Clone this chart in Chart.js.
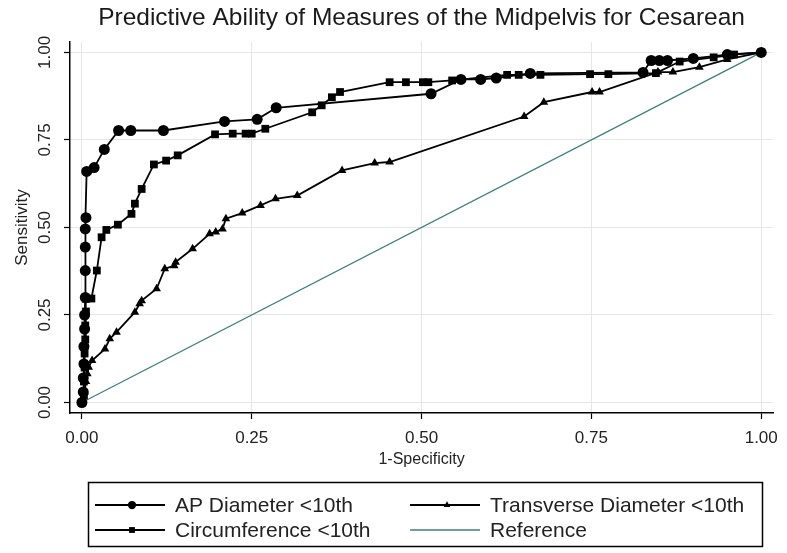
<!DOCTYPE html>
<html>
<head>
<meta charset="utf-8">
<script src="https://cdn.jsdelivr.net/npm/chart.js@4/dist/chart.umd.min.js"></script>
<style>
html, body { margin: 0; padding: 0; background: #fff; }
</style>
</head>
<body>
<canvas id="grafico" width="787" height="553"></canvas>
<script>
var tituloGrafico = 'Predictive Ability of Measures of the Midpelvis for Cesarean';
var tituloX = '1-Specificity';
var tituloY = 'Sensitivity';
var nomesSeries = ['AP Diameter <10th', 'Circumference <10th', 'Transverse Diameter <10th', 'Reference'];
var ticksEixo = [0, 0.25, 0.5, 0.75, 1];
var rotulosEixo = ['0.00', '0.25', '0.50', '0.75', '1.00'];

// AP Diameter <10th
var apX = [0, 0.002, 0.002, 0.003, 0.003, 0.004, 0.004, 0.005, 0.005, 0.005, 0.005, 0.006, 0.007, 0.018, 0.033, 0.054, 0.072, 0.12, 0.21, 0.258, 0.286, 0.514, 0.558, 0.587, 0.61, 0.66, 0.826, 0.838, 0.85, 0.862, 0.9, 0.95, 1];
var apY = [0, 0.03, 0.07, 0.11, 0.16, 0.21, 0.25, 0.30, 0.377, 0.444, 0.496, 0.528, 0.66, 0.671, 0.723, 0.777, 0.777, 0.777, 0.803, 0.809, 0.842, 0.882, 0.923, 0.923, 0.927, 0.94, 0.943, 0.977, 0.977, 0.977, 0.983, 0.994, 1];

// Circumference <10th
var circX = [0, 0.003, 0.003, 0.004, 0.004, 0.005, 0.005, 0.006, 0.006, 0.014, 0.022, 0.029, 0.036, 0.053, 0.073, 0.078, 0.088, 0.106, 0.124, 0.141, 0.196, 0.222, 0.241, 0.25, 0.27, 0.339, 0.353, 0.368, 0.38, 0.453, 0.477, 0.502, 0.51, 0.545, 0.626, 0.643, 0.675, 0.748, 0.775, 0.845, 0.88, 0.93, 0.96, 1];
var circY = [0, 0.02, 0.06, 0.10, 0.14, 0.18, 0.22, 0.26, 0.296, 0.297, 0.377, 0.472, 0.493, 0.508, 0.539, 0.568, 0.61, 0.68, 0.691, 0.706, 0.766, 0.768, 0.768, 0.768, 0.782, 0.829, 0.849, 0.872, 0.887, 0.915, 0.915, 0.915, 0.915, 0.92, 0.936, 0.936, 0.936, 0.938, 0.938, 0.941, 0.974, 0.986, 0.994, 1];

// Transverse Diameter <10th
var transX = [0, 0.004, 0.006, 0.008, 0.01, 0.015, 0.034, 0.041, 0.051, 0.078, 0.085, 0.088, 0.11, 0.122, 0.136, 0.138, 0.163, 0.188, 0.197, 0.207, 0.212, 0.236, 0.263, 0.285, 0.317, 0.383, 0.431, 0.453, 0.651, 0.68, 0.751, 0.762, 0.848, 0.87, 0.909, 0.95, 1];
var transY = [0, 0.03, 0.06, 0.082, 0.101, 0.12, 0.153, 0.182, 0.201, 0.258, 0.282, 0.291, 0.325, 0.382, 0.391, 0.401, 0.439, 0.482, 0.487, 0.496, 0.525, 0.541, 0.563, 0.582, 0.591, 0.663, 0.684, 0.687, 0.817, 0.858, 0.887, 0.887, 0.944, 0.944, 0.958, 0.98, 1];

// Reference
var refX = [0, 1];
var refY = [0, 1];

var fonte = '"Liberation Sans", Arial, sans-serif';
Chart.defaults.font.family = fonte;
Chart.defaults.color = '#222';

function montaPontos(xs, ys) {
    let pts = [];
    for (var i in xs) {
        pts.push({x: xs[i], y: ys[i]});
    }
    return pts;
}

function serie(idx, xs, ys, estilo, raio, cor, largura) {
    return {
        label: nomesSeries[idx],
        data: montaPontos(xs, ys),
        showLine: true,
        tension: 0,
        borderColor: cor,
        backgroundColor: cor,
        borderWidth: largura,
        pointStyle: estilo,
        pointRadius: raio,
        pointBorderWidth: 0,
        pointHoverRadius: raio
    };
}

// legenda em caixa e rotulos verticais do eixo y
const pluginExtras = {
    id: 'extras',
    afterDraw(chart) {
        const ctx = chart.ctx;
        const escY = chart.scales.y;
        ctx.save();
        ctx.fillStyle = '#222';
        ctx.font = '17px ' + fonte;
        ctx.textAlign = 'center';
        ctx.textBaseline = 'middle';
        for (var i in ticksEixo) {
            let py = escY.getPixelForValue(ticksEixo[i]);
            ctx.save();
            ctx.translate(45, py);
            ctx.rotate(-Math.PI / 2);
            ctx.fillText(rotulosEixo[i], 0, 0);
            ctx.restore();
        }

        ctx.strokeStyle = '#000';
        ctx.lineWidth = 1.5;
        ctx.strokeRect(88.5, 482.5, 674, 64);

        const posLeg = [[95, 505], [95, 530], [410, 505], [410, 530]];
        chart.data.datasets.forEach(function(ds, k) {
            let x0 = posLeg[k][0], y0 = posLeg[k][1];
            ctx.strokeStyle = ds.borderColor;
            ctx.lineWidth = ds.borderWidth;
            ctx.beginPath();
            ctx.moveTo(x0, y0);
            ctx.lineTo(x0 + 70, y0);
            ctx.stroke();
            if (ds.pointRadius > 0) {
                ctx.fillStyle = ds.backgroundColor;
                Chart.helpers.drawPoint(ctx, {pointStyle: ds.pointStyle, radius: ds.pointRadius * 0.75, rotation: 0, borderWidth: 0}, x0 + 37, y0);
            }
            ctx.fillStyle = '#222';
            ctx.font = '21px ' + fonte;
            ctx.textAlign = 'left';
            ctx.fillText(ds.label, x0 + 80, y0 + 1);
        });
        ctx.restore();
    }
};

function MontaGrafico() {
    const campo = document.getElementById('grafico');
    new Chart(campo, {
        type: 'scatter',
        data: {
            datasets: [
                serie(0, apX, apY, 'circle', 5.5, '#000', 1.8),
                serie(1, circX, circY, 'rect', 5.5, '#000', 1.8),
                serie(2, transX, transY, 'triangle', 5, '#000', 1.8),
                serie(3, refX, refY, 'circle', 0, '#3f8078', 1.3)
            ]
        },
        options: {
            responsive: false,
            animation: false,
            layout: {padding: {left: 0, right: 10, top: 0, bottom: 80}},
            plugins: {
                legend: {display: false},
                tooltip: {enabled: false},
                title: {
                    display: true,
                    fullSize: false,
                    text: tituloGrafico,
                    color: '#1a1a1a',
                    font: {size: 24.5, weight: 'normal', lineHeight: 1.1},
                    padding: {top: 5, bottom: 10}
                }
            },
            scales: {
                x: {
                    type: 'linear',
                    min: -0.0175,
                    max: 1.0175,
                    afterBuildTicks: function(esc) { esc.ticks = ticksEixo.map(v => ({value: v})); },
                    afterFit: function(esc) { esc.height = 60; },
                    ticks: {
                        padding: 9,
                        font: {size: 17},
                        color: '#222',
                        maxRotation: 0,
                        callback: function(v, i) { return rotulosEixo[i]; }
                    },
                    grid: {color: '#e6e6e6', lineWidth: 1, tickColor: '#000', tickLength: 6, tickWidth: 1.2},
                    border: {color: '#000', width: 1.5},
                    title: {display: true, text: tituloX, font: {size: 16}, color: '#222', padding: {top: 0, bottom: 4}}
                },
                y: {
                    type: 'linear',
                    min: -0.03,
                    max: 1.03,
                    afterBuildTicks: function(esc) { esc.ticks = ticksEixo.map(v => ({value: v})); },
                    afterFit: function(esc) { esc.width = 70; },
                    ticks: {display: false},
                    grid: {color: '#e6e6e6', lineWidth: 1, tickColor: '#000', tickLength: 6, tickWidth: 1.2},
                    border: {color: '#000', width: 1.5},
                    title: {display: true, text: tituloY, font: {size: 17}, color: '#222', padding: {top: 12, bottom: 0}}
                }
            }
        },
        plugins: [pluginExtras]
    });
}

MontaGrafico();
</script>
</body>
</html>
